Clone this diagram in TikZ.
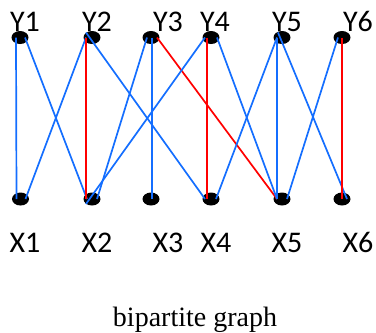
\documentclass[tikz,border=0pt]{standalone}
\usepackage{fontspec}
\setmainfont{Liberation Serif}
\newfontfamily\labfont{Carlito}
\usetikzlibrary{shapes.geometric}
\definecolor{eblue}{RGB}{20,110,255}
\definecolor{ered}{RGB}{255,0,0}
\begin{document}
\begin{tikzpicture}[x=1pt,y=-1pt,
  vtx/.style={ellipse,fill=black,inner sep=0pt,minimum width=17pt,minimum height=13pt},
  lab/.style={font=\labfont\fontsize{30}{36}\selectfont,anchor=base,inner sep=0pt},
  be/.style={draw=eblue,line width=1.7pt},
  re/.style={draw=ered,line width=1.7pt}]
\useasboundingbox (0,0) rectangle (376,333);
% vertices
\node[vtx] (Y1) at (20,37.5) {};
\node[vtx] (Y2) at (92,37.5) {};
\node[vtx] (Y3) at (151,37.5) {};
\node[vtx] (Y4) at (211,37.5) {};
\node[vtx] (Y5) at (282,37.5) {};
\node[vtx] (Y6) at (342,37.5) {};
\node[vtx] (X1) at (20.5,199) {};
\node[vtx] (X2) at (92,199) {};
\node[vtx] (X3) at (151,199) {};
\node[vtx] (X4) at (211,199) {};
\node[vtx] (X5) at (282,199) {};
\node[vtx] (X6) at (342,199) {};
% labels
\node[lab] (lY1) at (25,31) {Y1};
\node[lab] (lY2) at (97,31) {Y2};
\node[lab] (lY3) at (168,31) {Y3};
\node[lab] (lY4) at (215,31) {Y4};
\node[lab] (lY5) at (287,31) {Y5};
\node[lab] (lY6) at (358,31) {Y6};
\node[lab] (lX1) at (25,252) {X1};
\node[lab] (lX2) at (97,252) {X2};
\node[lab] (lX3) at (168,252) {X3};
\node[lab] (lX4) at (216,252) {X4};
\node[lab] (lX5) at (287,252) {X5};
\node[lab] (lX6) at (358,252) {X6};
\node[font=\fontsize{28}{34}\selectfont,anchor=base,inner sep=0pt] (cap) at (195,326) {bipartite graph};
% edges
\draw[be] ([xshift=-4pt]Y1.center) -- ([xshift=-4pt]X1.center);
\draw[be] ([xshift=5pt]Y1.center) -- ([xshift=-5pt]X2.center);
\draw[be] ([xshift=-6pt]Y2.center) -- ([xshift=5pt]X1.center);
\draw[re] ([xshift=-6pt]Y2.center) -- ([xshift=-6pt]X2.center);
\draw[be] ([xshift=-6pt,yshift=5pt]Y2.center) -- ([xshift=-6pt]X4.center);
\draw[be] ([xshift=-4pt]Y3.center) -- ([xshift=5pt]X2.center);
\draw[be] ([xshift=1pt]Y3.center) -- ([xshift=1pt]X3.center);
\draw[re] ([xshift=6pt]Y3.center) -- ([xshift=-5pt]X5.center);
\draw[be] ([xshift=-6pt]Y4.center) -- ([xshift=-6pt,yshift=-5pt]X2.center);
\draw[re] ([xshift=-4pt]Y4.center) -- ([xshift=-4pt]X4.center);
\draw[be] ([xshift=6pt]Y4.center) -- ([xshift=-5pt]X5.center);
\draw[be] ([xshift=-5pt]Y5.center) -- ([xshift=5pt]X4.center);
\draw[be] ([xshift=-5pt]Y5.center) -- ([xshift=-5pt]X5.center);
\draw[be] ([xshift=-4pt,yshift=5pt]Y5.center) -- ([xshift=5pt]X6.center);
\draw[be] ([xshift=-4pt]Y6.center) -- ([xshift=5pt]X5.center);
\draw[re] (Y6.center) -- (X6.center);
\end{tikzpicture}
\end{document}
